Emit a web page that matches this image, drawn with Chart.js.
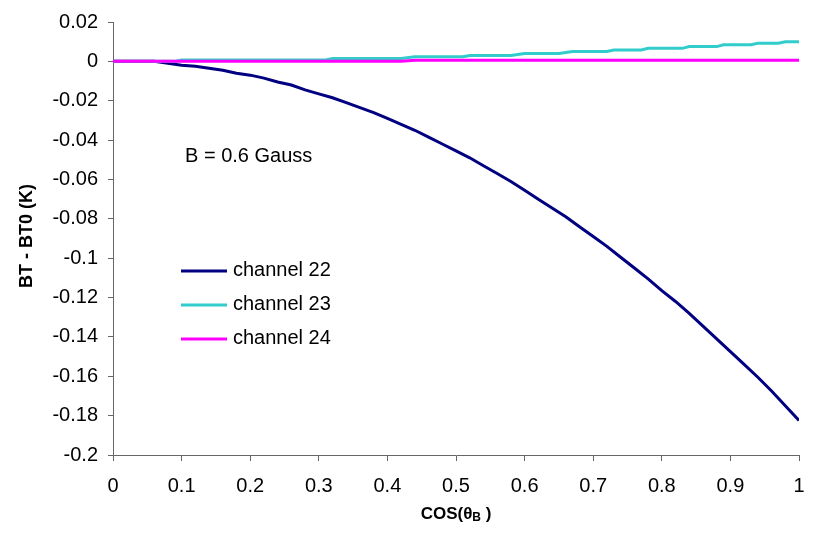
<!DOCTYPE html>
<html>
<head>
<meta charset="utf-8">
<script src="https://cdn.jsdelivr.net/npm/chart.js@4/dist/chart.umd.min.js"></script>
<style>
  html, body { margin: 0; padding: 0; background: #fff; }
  #wrap { width: 815px; height: 537px; }
</style>
</head>
<body>
<div id="wrap"><canvas id="chart" width="815" height="537"></canvas></div>
<script>
// cos(theta_B) samples for channel 22
const xValues = [0, 0.02, 0.04, 0.06, 0.08, 0.1, 0.12, 0.14, 0.16, 0.18, 0.2,
  0.22, 0.24, 0.26, 0.28, 0.3, 0.32, 0.34, 0.36, 0.38, 0.4,
  0.42, 0.44, 0.46, 0.48, 0.5, 0.52, 0.54, 0.56, 0.58, 0.6,
  0.62, 0.64, 0.66, 0.68, 0.7, 0.72, 0.74, 0.76, 0.78, 0.8,
  0.82, 0.84, 0.86, 0.88, 0.9, 0.92, 0.94, 0.96, 0.98, 1];

const channel22 = [0, 0, 0, 0, -0.001, -0.002, -0.0025, -0.0035, -0.0045, -0.006, -0.007,
  -0.0085, -0.0105, -0.012, -0.0145, -0.0165, -0.0185, -0.021, -0.0235, -0.026, -0.029,
  -0.032, -0.035, -0.0385, -0.042, -0.0455, -0.049, -0.053, -0.057, -0.061, -0.0655,
  -0.07, -0.0745, -0.079, -0.084, -0.089, -0.094, -0.0995, -0.105, -0.1105, -0.1165,
  -0.122, -0.128, -0.1345, -0.141, -0.1475, -0.154, -0.1605, -0.1675, -0.175, -0.1825];

// channel 23 is a staircase, listed at the step edges
const ch23X = [0, 0.09, 0.1, 0.31, 0.32, 0.42, 0.44, 0.51, 0.52, 0.58, 0.6, 0.65, 0.67,
  0.72, 0.73, 0.77, 0.78, 0.83, 0.84, 0.88, 0.89, 0.93, 0.94, 0.97, 0.98, 1];
const channel23 = [0, 0, 0.0007, 0.0007, 0.0015, 0.0015, 0.0023, 0.0023, 0.003, 0.003,
  0.004, 0.004, 0.005, 0.005, 0.0058, 0.0058, 0.0066, 0.0066, 0.0075, 0.0075,
  0.0084, 0.0084, 0.0092, 0.0092, 0.01, 0.01];

const ch24X = [0, 0.42, 0.44, 1];
const channel24 = [0, 0, 0.0006, 0.0006];

const seriesNames = ['channel 22', 'channel 23', 'channel 24'];
const seriesColors = ['#000080', '#33CCCC', '#FF00FF'];

const xTickLabels = ['0', '0.1', '0.2', '0.3', '0.4', '0.5', '0.6', '0.7', '0.8', '0.9', '1'];
const yTickLabels = ['-0.2', '-0.18', '-0.16', '-0.14', '-0.12', '-0.1', '-0.08', '-0.06',
  '-0.04', '-0.02', '0', '0.02'];

const noteText = 'B = 0.6 Gauss';
const yTitle = 'BT - BT0 (K)';

const FONT = "'Liberation Sans', Arial, sans-serif";
const axisColor = '#666';

function toPoints(xs, ys) {
  return xs.map((x, i) => ({ x: x, y: ys[i] }));
}

const extras = {
  id: 'extras',
  afterDraw(chart) {
    const ctx = chart.ctx;
    const area = chart.chartArea;
    ctx.save();
    ctx.fillStyle = '#000';

    // note
    ctx.font = '20px ' + FONT;
    ctx.textBaseline = 'middle';
    ctx.textAlign = 'left';
    ctx.fillText(noteText, 185, 156);

    // legend
    chart.data.datasets.forEach((ds, i) => {
      const y = 271 + i * 34;
      ctx.strokeStyle = ds.borderColor;
      ctx.lineWidth = 3;
      ctx.beginPath();
      ctx.moveTo(181, y);
      ctx.lineTo(227, y);
      ctx.stroke();
      ctx.fillText(ds.label, 233, y - 1);
    });

    // x title with subscript
    const cx = (area.left + area.right) / 2;
    const ty = 514;
    const p1 = 'COS(\u03B8';
    const p2 = 'B';
    const p3 = ' )';
    ctx.font = 'bold 17px ' + FONT;
    const w1 = ctx.measureText(p1).width;
    const w3 = ctx.measureText(p3).width;
    ctx.font = 'bold 12px ' + FONT;
    const w2 = ctx.measureText(p2).width;
    let x = cx - (w1 + w2 + w3) / 2;
    ctx.textAlign = 'left';
    ctx.font = 'bold 17px ' + FONT;
    ctx.fillText(p1, x, ty);
    x += w1;
    ctx.font = 'bold 12px ' + FONT;
    ctx.fillText(p2, x, ty + 4);
    x += w2;
    ctx.font = 'bold 17px ' + FONT;
    ctx.fillText(p3, x, ty);

    // y title
    ctx.translate(27, 236);
    ctx.rotate(-Math.PI / 2);
    ctx.textAlign = 'center';
    ctx.font = 'bold 18px ' + FONT;
    ctx.fillText(yTitle, 0, 0);
    ctx.restore();
  }
};

new Chart(document.getElementById('chart'), {
  type: 'line',
  data: {
    datasets: [
      { label: seriesNames[0], data: toPoints(xValues, channel22), borderColor: seriesColors[0], order: 3 },
      { label: seriesNames[1], data: toPoints(ch23X, channel23), borderColor: seriesColors[1], order: 2 },
      { label: seriesNames[2], data: toPoints(ch24X, channel24), borderColor: seriesColors[2], order: 1 }
    ]
  },
  options: {
    responsive: false,
    animation: false,
    parsing: false,
    elements: {
      line: { borderWidth: 3, tension: 0, fill: false },
      point: { radius: 0 }
    },
    layout: { padding: { top: 17, right: 16, left: 0, bottom: 0 } },
    plugins: {
      legend: { display: false },
      tooltip: { enabled: false }
    },
    scales: {
      x: {
        type: 'linear',
        min: 0,
        max: 1,
        afterFit(scale) {
          scale.height = 82;
          scale.paddingRight = 0;
        },
        border: { display: true, color: axisColor, width: 1 },
        grid: { drawOnChartArea: false, drawTicks: true, tickLength: 6, color: axisColor },
        ticks: {
          stepSize: 0.1,
          color: '#000',
          padding: 13,
          maxRotation: 0,
          font: { family: FONT, size: 20 },
          callback: (v, i) => xTickLabels[i]
        }
      },
      y: {
        type: 'linear',
        min: -0.2,
        max: 0.02,
        afterFit(scale) { scale.width = 113; },
        border: { display: true, color: axisColor, width: 1 },
        grid: { drawOnChartArea: false, drawTicks: true, tickLength: 5, color: axisColor },
        ticks: {
          stepSize: 0.02,
          color: '#000',
          padding: 10,
          font: { family: FONT, size: 20 },
          callback: (v, i) => yTickLabels[i]
        }
      }
    }
  },
  plugins: [extras]
});
</script>
</body>
</html>
